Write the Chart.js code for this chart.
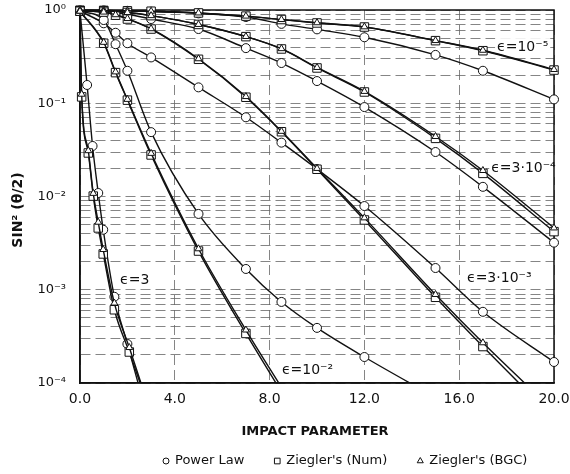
<!DOCTYPE html>
<html>
<head>
<meta charset="utf-8">
<script src="https://cdn.jsdelivr.net/npm/chart.js@4.4.1/dist/chart.umd.min.js"></script>
<style>
  html, body { margin: 0; padding: 0; background: #fff; }
</style>
</head>
<body>
<canvas id="grafico" width="570" height="474"></canvas>
<script>
// eps = 3 (Power Law and Ziegler sampled at slightly different impact parameters)
const e3PowX = [0, 0.3, 0.53, 0.77, 0.98, 1.45, 2.0, 2.5];
const e3PowY = [0.97, 0.157, 0.0348, 0.0109, 4.4e-3, 8.4e-4, 2.62e-4, 9e-5];
const e3ZigX = [0, 0.07, 0.35, 0.56, 0.77, 0.98, 1.45, 2.08, 2.6];
const e3NumY = [0.97, 0.117, 0.0293, 0.0101, 4.6e-3, 2.42e-3, 6.1e-4, 2.15e-4, 9e-5];
const e3BgcY = [0.97, 0.125, 0.031, 0.0108, 5.3e-3, 2.7e-3, 7.2e-4, 2.4e-4, 9.5e-5];

// eps = 1e-2
const e2X    = [0, 1, 1.5, 2, 3, 5, 7, 8.5, 10, 12, 15];
const e2PowY = [0.97, 0.78, 0.43, 0.223, 0.049, 6.5e-3, 1.67e-3, 7.4e-4, 3.9e-4, 1.9e-4, 7e-5];
const e2NumY = [0.97, 0.44, 0.213, 0.108, 0.0279, 2.6e-3, 3.4e-4, 8e-5, null, null, null];
const e2BgcY = [0.97, 0.45, 0.217, 0.11, 0.029, 2.75e-3, 3.7e-4, 9e-5, null, null, null];

// eps = 3e-3
const e33X    = [0, 1, 1.5, 2, 3, 5, 7, 8.5, 10, 12, 15, 17, 20];
const e33PowY = [0.97, 0.72, 0.57, 0.44, 0.31, 0.148, 0.0707, 0.0378, 0.0197, 7.9e-3, 1.71e-3, 5.8e-4, 1.68e-4];
const e33NumY = [0.98, 0.95, 0.88, 0.80, 0.625, 0.296, 0.116, 0.0495, 0.0196, 5.6e-3, 8.3e-4, 2.46e-4, 4.2e-5];
const e33BgcY = [0.98, 0.95, 0.89, 0.81, 0.63, 0.30, 0.118, 0.050, 0.020, 5.9e-3, 8.9e-4, 2.7e-4, 5e-5];

// eps = 3e-4
const e34X    = [0, 1, 2, 3, 5, 7, 8.5, 10, 12, 15, 17, 20];
const e34PowY = [0.98, 0.96, 0.90, 0.80, 0.625, 0.39, 0.27, 0.173, 0.091, 0.030, 0.0127, 3.2e-3];
const e34NumY = [0.99, 0.98, 0.94, 0.87, 0.70, 0.518, 0.382, 0.239, 0.132, 0.042, 0.0177, 4.2e-3];
const e34BgcY = [0.99, 0.98, 0.94, 0.87, 0.70, 0.52, 0.385, 0.242, 0.134, 0.044, 0.019, 4.6e-3];

// eps = 1e-5
const e5X    = [0, 1, 2, 3, 5, 7, 8.5, 10, 12, 15, 17, 20];
const e5PowY = [0.99, 0.99, 0.98, 0.96, 0.92, 0.84, 0.71, 0.62, 0.51, 0.33, 0.223, 0.110];
const e5NumY = [0.99, 0.99, 0.98, 0.97, 0.93, 0.86, 0.79, 0.726, 0.657, 0.469, 0.366, 0.227];
const e5BgcY = [0.99, 0.99, 0.98, 0.97, 0.93, 0.86, 0.79, 0.73, 0.66, 0.47, 0.37, 0.23];

const xTickLabels = ["0.0", "4.0", "8.0", "12.0", "16.0", "20.0"];
const yTickLabels = ["10\u207B\u2074", "10\u207B\u00B3", "10\u207B\u00B2", "10\u207B\u00B9", "10\u2070"];
const legendLabels = ["Power Law", "Ziegler's (Num)", "Ziegler's (BGC)"];
const epsLabels = ["\u03F5=10\u207B\u2075", "\u03F5=3\u00B710\u207B\u2074", "\u03F5=3\u00B710\u207B\u00B3", "\u03F5=10\u207B\u00B2", "\u03F5=3"];

// where each eps label sits, in axis units (left edge, vertical middle)
const epsLabelAt = [[17.6, 0.40], [17.35, 0.0202], [16.33, 1.34e-3], [8.52, 1.38e-4], [1.69, 1.27e-3]];

const FONT = '"DejaVu Sans", sans-serif';
const INK = "#111";

const kinds = {
    pow: { style: "circle",   r: 4.5, order: 3 },
    num: { style: "rect",     r: 6,   order: 2 },
    bgc: { style: "triangle", r: 4,   order: 1 }
};

function curve(xs, ys, kind) {
    const k = kinds[kind];
    return {
        label: kind,
        data: xs.map((x, i) => ({ x: x, y: ys[i] })),
        borderColor: INK,
        borderWidth: 1.4,
        backgroundColor: "#fff",
        pointStyle: k.style,
        pointRadius: c => (c.raw && c.raw.y !== null && c.raw.y < 1e-4) ? 0 : k.r,
        pointBorderWidth: 1,
        pointBorderColor: INK,
        pointBackgroundColor: "#fff",
        cubicInterpolationMode: "monotone",
        order: k.order,
        clip: { left: 8, top: 8, right: 8, bottom: 0 }
    };
}

const datasets = [
    curve(e3PowX, e3PowY, "pow"), curve(e3ZigX, e3NumY, "num"), curve(e3ZigX, e3BgcY, "bgc"),
    curve(e2X, e2PowY, "pow"), curve(e2X, e2NumY, "num"), curve(e2X, e2BgcY, "bgc"),
    curve(e33X, e33PowY, "pow"), curve(e33X, e33NumY, "num"), curve(e33X, e33BgcY, "bgc"),
    curve(e34X, e34PowY, "pow"), curve(e34X, e34NumY, "num"), curve(e34X, e34BgcY, "bgc"),
    curve(e5X, e5PowY, "pow"), curve(e5X, e5NumY, "num"), curve(e5X, e5BgcY, "bgc")
];

// grid at 1..9 x 10^k over the four decades
const yGrid = [];
for (let e = -4; e <= 0; e++) {
    for (let m = 1; m <= 9; m++) {
        if (e === 0 && m > 1) break;
        yGrid.push(Number((m * Math.pow(10, e)).toPrecision(2)));
    }
}

const decor = {
    id: "decor",
    beforeDatasetsDraw(chart) {
        const { ctx, chartArea: a, scales: { x, y } } = chart;
        ctx.save();
        ctx.font = "14px " + FONT;
        ctx.fillStyle = "#fff";
        epsLabels.forEach((t, i) => {
            const px = x.getPixelForValue(epsLabelAt[i][0]);
            const py = y.getPixelForValue(epsLabelAt[i][1]);
            ctx.fillRect(px - 2, py - 9, ctx.measureText(t).width + 4, 18);
        });
        ctx.strokeStyle = INK;
        ctx.lineWidth = 1.5;
        ctx.strokeRect(a.left, a.top, a.right - a.left, a.bottom - a.top);
        ctx.restore();
    },
    afterDatasetsDraw(chart) {
        const { ctx, scales: { x, y } } = chart;
        ctx.save();
        ctx.font = "14px " + FONT;
        ctx.fillStyle = INK;
        ctx.textBaseline = "middle";
        ctx.textAlign = "left";
        epsLabels.forEach((t, i) => {
            ctx.fillText(t, x.getPixelForValue(epsLabelAt[i][0]), y.getPixelForValue(epsLabelAt[i][1]));
        });
        ctx.restore();
    },
    afterDraw(chart) {
        const { ctx } = chart;
        ctx.save();
        ctx.fillStyle = INK;
        ctx.textBaseline = "middle";

        // axis titles
        ctx.font = "bold 13px " + FONT;
        ctx.textAlign = "center";
        ctx.fillText("IMPACT PARAMETER", 315, 432);
        ctx.save();
        ctx.translate(18, 210);
        ctx.rotate(-Math.PI / 2);
        ctx.font = "bold 14px " + FONT;
        ctx.fillText("SIN\u00B2 (\u03B8/2)", 0, 0);
        ctx.restore();

        // legend row
        ctx.font = "13px " + FONT;
        ctx.textAlign = "left";
        ctx.strokeStyle = INK;
        ctx.lineWidth = 1;
        const styles = ["circle", "rect", "triangle"];
        const radii = [3, 4, 3.5];
        let lx = 163;
        const ly = 461;
        legendLabels.forEach((t, i) => {
            ctx.fillStyle = "#fff";
            Chart.helpers.drawPoint(ctx, { pointStyle: styles[i], radius: radii[i], borderWidth: 1, rotation: 0 }, lx + 3, ly);
            ctx.fillStyle = INK;
            ctx.fillText(t, lx + 12, ly);
            lx += 12 + ctx.measureText(t).width + 30;
        });
        ctx.restore();
    }
};

Chart.defaults.font.family = FONT;
Chart.defaults.color = INK;

new Chart(document.getElementById("grafico"), {
    type: "line",
    data: { datasets: datasets },
    options: {
        responsive: false,
        animation: false,
        layout: { padding: { top: 10, right: 16, bottom: 0, left: 0 } },
        plugins: { legend: { display: false }, tooltip: { enabled: false } },
        scales: {
            x: {
                type: "linear",
                min: 0,
                max: 20,
                afterFit: s => { s.height = 91; s.paddingLeft = 0; s.paddingRight = 0; },
                ticks: {
                    stepSize: 4,
                    padding: 8,
                    maxRotation: 0,
                    font: { size: 14 },
                    callback: v => xTickLabels[Math.round(v / 4)] ?? ""
                },
                grid: { color: "#666", lineWidth: 0.8, drawTicks: false },
                border: { color: INK, width: 1.5, dash: [10, 5] }
            },
            y: {
                type: "logarithmic",
                min: 1e-4,
                max: 1,
                afterBuildTicks: s => { s.ticks = yGrid.map(v => ({ value: v })); },
                afterFit: s => { s.width = 80; s.paddingTop = 0; s.paddingBottom = 0; },
                ticks: {
                    autoSkip: false,
                    padding: 14,
                    font: { size: 13 },
                    callback: (v, i) => (i % 9 === 0 ? yTickLabels[i / 9] : "")
                },
                grid: { color: "#666", lineWidth: 0.8, drawTicks: false },
                border: { color: INK, width: 1.5, dash: [10, 5] }
            }
        }
    },
    plugins: [decor]
});
</script>
</body>
</html>
